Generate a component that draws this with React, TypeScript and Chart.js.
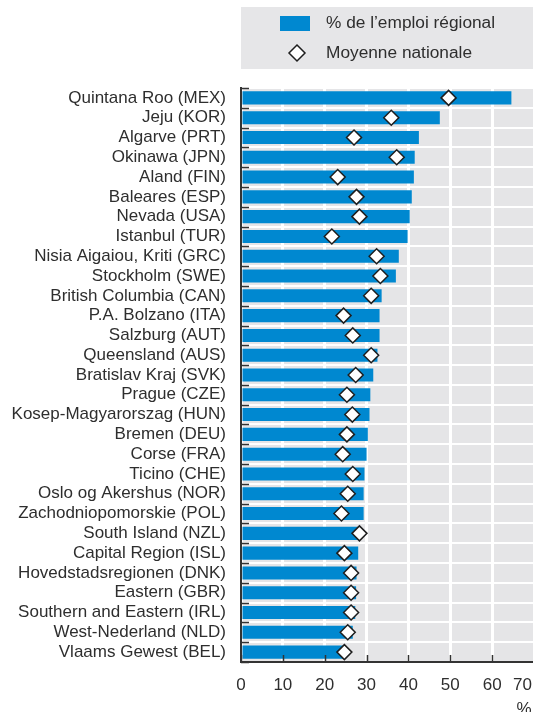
import React, { useEffect, useRef } from 'react';
import { Chart, registerables } from 'chart.js';

Chart.register(...registerables);

const categories = [
  'Quintana Roo (MEX)',
  'Jeju (KOR)',
  'Algarve (PRT)',
  'Okinawa (JPN)',
  'Aland (FIN)',
  'Baleares (ESP)',
  'Nevada (USA)',
  'Istanbul (TUR)',
  'Nisia Aigaiou, Kriti (GRC)',
  'Stockholm (SWE)',
  'British Columbia (CAN)',
  'P.A. Bolzano (ITA)',
  'Salzburg (AUT)',
  'Queensland (AUS)',
  'Bratislav Kraj (SVK)',
  'Prague (CZE)',
  'Kosep-Magyarorszag (HUN)',
  'Bremen (DEU)',
  'Corse (FRA)',
  'Ticino (CHE)',
  'Oslo og Akershus (NOR)',
  'Zachodniopomorskie (POL)',
  'South Island (NZL)',
  'Capital Region (ISL)',
  'Hovedstadsregionen (DNK)',
  'Eastern (GBR)',
  'Southern and Eastern (IRL)',
  'West-Nederland (NLD)',
  'Vlaams Gewest (BEL)',
];

const regionalShare = [
  64.6, 47.5, 42.5, 41.5, 41.3, 40.8, 40.3, 39.8, 37.7, 37.0,
  33.6, 33.1, 33.1, 32.6, 31.6, 30.9, 30.7, 30.3, 30.0, 29.5,
  29.3, 29.3, 28.6, 28.0, 27.6, 27.5, 27.3, 26.7, 24.7,
];

const nationalAverage = [
  49.6, 35.9, 27.0, 37.2, 23.1, 27.6, 28.3, 21.7, 32.4, 33.3,
  31.1, 24.5, 26.7, 31.1, 27.4, 25.3, 26.6, 25.3, 24.3, 26.7,
  25.5, 24.0, 28.3, 24.7, 26.3, 26.3, 26.3, 25.5, 24.7,
];

const xTicks = [0, 10, 20, 30, 40, 50, 60, 70];
const seriesLabels = ['% de l\u2019emploi r\u00e9gional', 'Moyenne nationale'];
const unitLabel = '%';

const FONT = '"Liberation Sans", Arial, sans-serif';
const TEXT = '#2e2e2e';
const BLUE = '#0088d0';
const PLOT_BG = '#e5e5e7';
const VIEW_W = 533;
const CANVAS_W = 543; // extra room absorbs Chart.js point-overflow padding on the right

function drawDiamond(ctx: CanvasRenderingContext2D, x: number, y: number, r: number) {
  ctx.beginPath();
  ctx.moveTo(x, y - r);
  ctx.lineTo(x + r, y);
  ctx.lineTo(x, y + r);
  ctx.lineTo(x - r, y);
  ctx.closePath();
  ctx.fillStyle = '#ffffff';
  ctx.fill();
  ctx.lineWidth = 1.5;
  ctx.strokeStyle = '#1e1e1e';
  ctx.stroke();
}

const decorPlugin = {
  id: 'decor',
  beforeDraw(chart: any) {
    const { ctx, chartArea: a } = chart;
    ctx.save();
    ctx.fillStyle = PLOT_BG;
    ctx.fillRect(a.left, a.top, a.right - a.left, a.bottom - a.top);

    // legend box
    ctx.fillStyle = '#e6e6e8';
    ctx.fillRect(241, 7, VIEW_W - 241, 62);
    ctx.fillStyle = BLUE;
    ctx.fillRect(280, 16, 30, 15);
    drawDiamond(ctx, 297, 53, 8);
    ctx.fillStyle = TEXT;
    ctx.font = `17.3px ${FONT}`;
    ctx.textBaseline = 'middle';
    ctx.textAlign = 'left';
    ctx.fillText(seriesLabels[0], 326, 23);
    ctx.fillText(seriesLabels[1], 326, 53);
    ctx.restore();
  },
  afterDraw(chart: any) {
    const { ctx, chartArea: a, scales } = chart;
    const xs = scales.x;
    const ys = scales.y;
    ctx.save();
    ctx.strokeStyle = '#333333';
    ctx.lineWidth = 1.5;
    // inner ticks on y axis at category boundaries
    for (let i = 0; i <= categories.length; i++) {
      const y = Math.round(ys.getPixelForValue(i - 0.5)) + 0.5;
      ctx.beginPath();
      ctx.moveTo(a.left, y);
      ctx.lineTo(a.left + 8, y);
      ctx.stroke();
    }
    // inner ticks on x axis
    for (const v of xTicks) {
      const x = Math.round(xs.getPixelForValue(v)) + 0.5;
      ctx.beginPath();
      ctx.moveTo(x, a.bottom);
      ctx.lineTo(x, a.bottom - 7);
      ctx.stroke();
    }
    // x tick labels
    ctx.fillStyle = TEXT;
    ctx.font = `17px ${FONT}`;
    ctx.textBaseline = 'middle';
    ctx.textAlign = 'center';
    for (const v of xTicks) {
      const label = String(v);
      const w = ctx.measureText(label).width;
      let x = xs.getPixelForValue(v);
      if (x + w / 2 > VIEW_W - 1) x = VIEW_W - 1 - w / 2;
      ctx.fillText(label, x, 685);
    }
    ctx.textBaseline = 'top';
    ctx.fillText(unitLabel, 524, 701);
    ctx.restore();
  },
};

export default function App() {
  const canvasRef = useRef<HTMLCanvasElement | null>(null);

  useEffect(() => {
    const canvas = canvasRef.current;
    if (!canvas) return;
    const chart = new Chart(canvas, {
      type: 'bar',
      data: {
        labels: categories,
        datasets: [
          {
            type: 'line',
            label: seriesLabels[1],
            data: nationalAverage,
            showLine: false,
            pointStyle: 'rectRot',
            pointRadius: 7.5,
            pointHoverRadius: 7.5,
            pointBackgroundColor: '#ffffff',
            pointBorderColor: '#1e1e1e',
            pointBorderWidth: 1.5,
            order: 0,
          } as any,
          {
            type: 'bar',
            label: seriesLabels[0],
            data: regionalShare,
            backgroundColor: BLUE,
            borderWidth: 0,
            barPercentage: 0.66,
            categoryPercentage: 1,
            order: 1,
          },
        ],
      },
      options: {
        indexAxis: 'y',
        animation: false,
        responsive: false,
        maintainAspectRatio: false,
        events: [],
        layout: { padding: { top: 88, right: 0, left: 0, bottom: 0 } },
        plugins: {
          legend: { display: false },
          tooltip: { enabled: false },
          title: { display: false },
        },
        scales: {
          x: {
            type: 'linear',
            min: 0,
            max: 70,
            ticks: { stepSize: 10, display: false },
            grid: { color: '#ffffff', lineWidth: 3, drawTicks: false },
            border: { display: true, color: '#333333', width: 2 },
            afterFit(scale: any) {
              scale.height = 50;
            },
          },
          y: {
            type: 'category',
            ticks: {
              color: TEXT,
              font: { family: FONT, size: 17 },
              padding: 15,
              autoSkip: false,
            },
            grid: { color: '#ffffff', lineWidth: 2, drawTicks: false, offset: true },
            border: { display: true, color: '#333333', width: 2 },
            afterFit(scale: any) {
              scale.width = 241;
            },
          },
        },
      },
      plugins: [decorPlugin],
    } as any);
    return () => chart.destroy();
  }, []);

  return (
    <div style={{ position: 'absolute', left: 0, top: 0, width: VIEW_W, height: 712, overflow: 'hidden' }}>
      <canvas
        ref={canvasRef}
        width={CANVAS_W}
        height={712}
        style={{ width: CANVAS_W, height: 712, display: 'block' }}
      />
    </div>
  );
}
